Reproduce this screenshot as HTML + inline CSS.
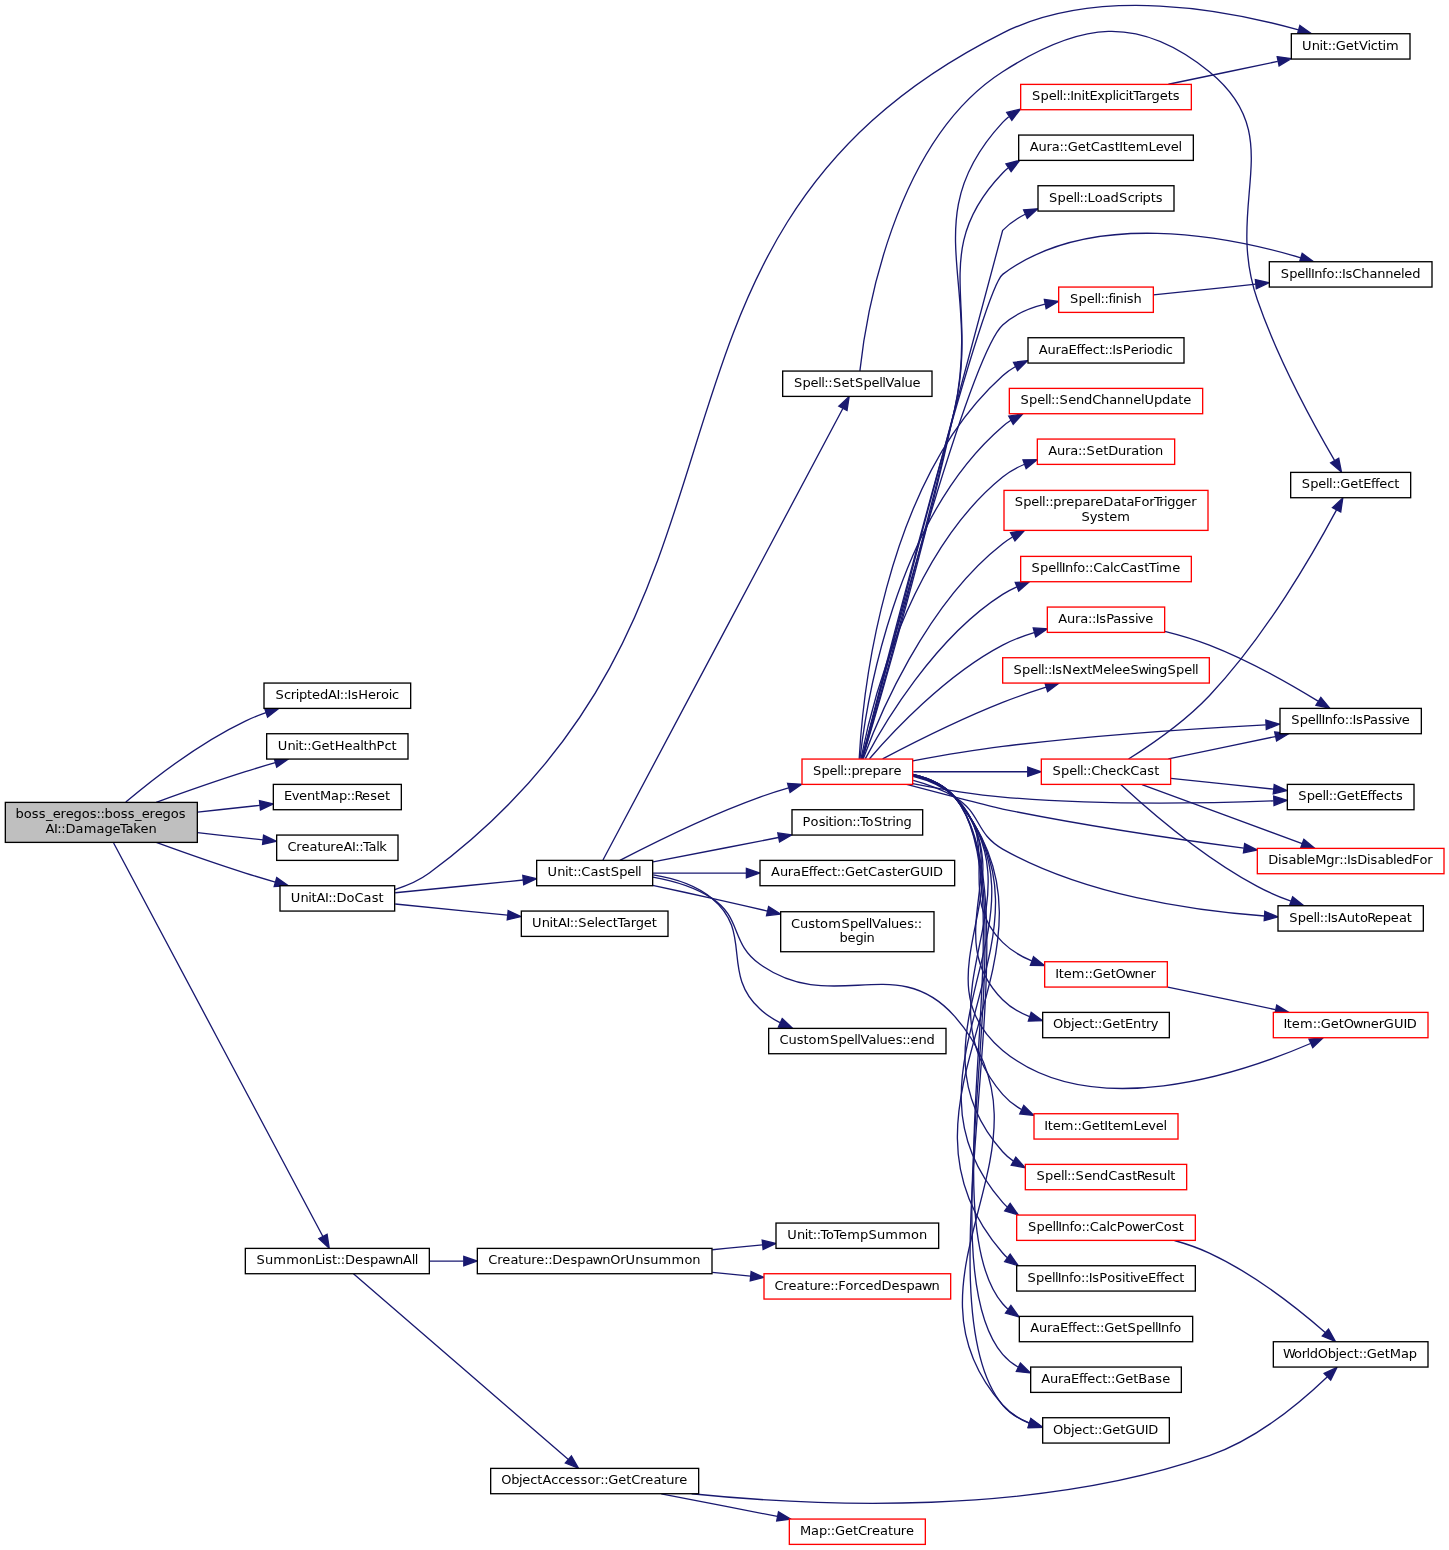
<!DOCTYPE html>
<html lang="en"><head><meta charset="utf-8"><title>boss_eregos::boss_eregosAI::DamageTaken call graph</title>
<style>html,body{margin:0;padding:0;background:#fff}svg{display:block;will-change:transform}</style></head>
<body>
<svg width="1449" height="1550" viewBox="0 0 1449 1550">
<rect width="1449" height="1550" fill="#fff"/>
<g font-family="'DejaVu Sans', 'Liberation Sans', sans-serif" font-size="13" fill="#000">
<g fill="none" stroke="#191970" stroke-width="1.33">
<path d="M125.8,802.09C152.79,779.37 199.53,742.9 245.33,721.06 251.88,717.94 258.88,715.14 265.99,712.63"/>
<path d="M156.23,802.39C182.87,792.69 215.64,781.14 245.33,771.73 254.97,768.67 265.25,765.61 275.29,762.73"/>
<path d="M197.57,812.09C218.28,809.85 239.93,807.49 259.8,805.33"/>
<path d="M197.57,832.7C219.41,835.07 242.31,837.55 263.04,839.81"/>
<path d="M156.23,842.39C182.87,852.1 215.64,863.65 245.33,873.06 254.97,876.11 265.25,879.18 275.29,882.06"/>
<path d="M113.61,842.97C152.11,915.34 281.23,1158.1 322.91,1236.45"/>
<path d="M394.81,889.53C406.97,885.81 419.21,880.54 429.33,873.06 792.93,604.54 598.65,235.74 1002.67,33.06 1098.25,-14.89 1228.01,10.09 1298.56,29.9"/>
<path d="M395.19,892.77C432.97,889.01 482.95,884.05 523.27,880.03"/>
<path d="M395.19,904.02C428.2,907.3 470.53,911.51 507.59,915.19"/>
<path d="M602.96,859.97C638.05,793.9 795.95,496.74 842.84,408.5"/>
<path d="M619.89,860.37C651.33,844.03 708.63,815.58 760,797.06 769.15,793.77 778.91,790.69 788.59,787.9"/>
<path d="M652.88,877.21C672.8,880.71 694.55,887.05 712,898.39 742.21,918.02 730.24,943.41 760,964.33 833.96,1016.22 895.87,950.18 954.67,1016.33 1069.13,1147.23 887.05,1274.57 1002.67,1405.06 1009.81,1413.13 1019.09,1418.82 1029.13,1422.81"/>
<path d="M653.05,861.94C689.85,854.77 738.19,845.35 778.45,837.5"/>
<path d="M653.05,873.06C680.4,873.06 714.09,873.06 746.12,873.06"/>
<path d="M652.67,885.29C671.56,889.41 692.69,894.05 712,898.39 729.93,902.42 749.09,906.81 767.41,911.03"/>
<path d="M653.2,874.94C673.63,878.17 695.6,884.9 712,898.39 753.41,932.45 720.47,972.85 760,1009.06 765.89,1014.46 772.72,1018.95 779.97,1022.69"/>
<path d="M859.89,370.81C865.35,321.22 892.36,142.3 1002.67,71.73 1080.04,22.22 1138.01,13.85 1209.33,71.73 1289.75,136.98 1223.37,201.9 1257.33,299.73 1278.23,359.91 1314.32,425.65 1334.53,460.37"/>
<path d="M862.6,758.66C876.61,711.74 924.88,547.22 954.67,409.06 981.89,282.78 914.93,217.21 1002.67,122.39 1004.57,120.34 1006.61,118.43 1008.77,116.67"/>
<path d="M862.43,758.62C875.88,711.58 922.48,546.69 954.67,409.06 979.04,304.83 928.61,250.35 1002.67,173.06 1004.36,171.3 1006.16,169.65 1008.04,168.1"/>
<path d="M862.05,758.91C883.67,677.14 1001.44,231.67 1002.67,230.39 1009.04,223.73 1016.8,218.45 1025.15,214.26"/>
<path d="M861.92,758.87C881.36,682.38 981.92,289.99 1002.67,274.39 1090.08,208.7 1228.04,236.26 1300.76,257.79"/>
<path d="M862,758.93C880.25,689.19 968.57,356.9 1002.67,325.06 1014.21,314.27 1029.63,307.89 1044.97,304.15"/>
<path d="M859.2,758.75C862.23,703.37 881.67,484.61 1002.67,375.73 1006.48,372.29 1010.69,369.3 1015.17,366.71"/>
<path d="M859.93,759.03C865.69,708.47 894.01,519.71 1002.67,426.39 1005.27,424.15 1008.04,422.11 1010.95,420.25"/>
<path d="M860.99,758.7C869.92,712.45 906.57,554.74 1002.67,477.06 1009.19,471.79 1016.65,467.59 1024.51,464.26"/>
<path d="M863.23,758.7C877.44,719.95 924.73,604.42 1002.67,543.73 1005.77,541.31 1009.05,539.07 1012.47,536.98"/>
<path d="M865.36,758.61C882.99,725.49 934.05,637.99 1002.67,594.39 1007.13,591.55 1011.89,589.03 1016.83,586.81"/>
<path d="M869.51,758.71C891.71,732.91 945.15,675.18 1002.67,645.06 1012.44,639.94 1023.28,635.83 1034.13,632.54"/>
<path d="M912.83,760.86C939.75,755.81 972.81,750.1 1002.67,746.39 1092.21,735.27 1195.43,728.5 1265.79,724.79"/>
<path d="M882.65,758.86C910.84,744.03 959.32,719.53 1002.67,702.39 1016.55,696.91 1031.76,691.71 1046.11,687.17"/>
<path d="M913.27,771.73C946.92,771.73 990.6,771.73 1027.73,771.73"/>
<path d="M912.73,783.54C939.63,788.82 972.71,794.45 1002.67,797.06 1095.69,805.18 1203.29,803.46 1273.64,800.85"/>
<path d="M906.65,784.43C944.73,794.47 993.12,807.11 1002.67,809.06 1083.03,825.46 1174.85,839.01 1243.8,848.15"/>
<path d="M913.15,780.42C927.31,784.18 942.11,789.5 954.67,797.06 981.61,813.27 975.24,833.67 1002.67,849.06 1084.04,894.73 1191.04,910.61 1264.52,915.97"/>
<path d="M913.16,776.46C928.15,780.14 943.37,786.43 954.67,797.06 1004.21,843.67 954.21,894.66 1002.67,942.39 1010.84,950.45 1021.01,956.47 1031.75,960.98"/>
<path d="M913.08,775.31C928.41,778.93 943.85,785.46 954.67,797.06 1032.79,880.91 914.41,977.29 1002.67,1050.39 1091.29,1123.81 1240.27,1073.78 1310.48,1043.49"/>
<path d="M912.76,775.62C928.08,779.23 943.6,785.7 954.67,797.06 1019.28,863.34 937.57,933.91 1002.67,999.73 1010.16,1007.3 1019.53,1012.73 1029.55,1016.61"/>
<path d="M912.77,775.02C928.28,778.59 943.89,785.18 954.67,797.06 1044.57,896.23 915.07,993.18 1002.67,1094.39 1007.96,1100.5 1014.4,1105.46 1021.45,1109.49"/>
<path d="M912.96,774.85C928.48,778.42 944.05,785.05 954.67,797.06 1059.99,916.26 896.48,1033.3 1002.67,1151.73 1005.87,1155.3 1009.49,1158.41 1013.41,1161.1"/>
<path d="M913.08,774.74C928.61,778.3 944.15,784.95 954.67,797.06 1073.64,933.99 882.69,1066.33 1002.67,1202.39 1004.07,1203.98 1005.53,1205.47 1007.09,1206.87"/>
<path d="M912.67,774.54C928.37,778.07 944.12,784.75 954.67,797.06 1087.32,951.75 868.89,1099.33 1002.67,1253.06 1004.05,1254.65 1005.52,1256.15 1007.07,1257.57"/>
<path d="M912.75,774.47C928.45,778.01 944.19,784.7 954.67,797.06 1027.84,883.3 928.87,1218.02 1002.67,1303.73 1004.27,1305.58 1005.97,1307.31 1007.77,1308.93"/>
<path d="M912.81,774.42C928.52,777.95 944.24,784.66 954.67,797.06 1034.69,892.19 921.96,1259.85 1002.67,1354.39 1007.03,1359.5 1012.24,1363.66 1017.97,1367.05"/>
<path d="M912.87,774.38C928.57,777.9 944.28,784.62 954.67,797.06 1041.55,901.09 915.04,1301.67 1002.67,1405.06 1009.8,1413.47 1019.24,1419.33 1029.52,1423.35"/>
<path d="M1168.4,84.27C1201.65,77.31 1242.99,68.66 1277.75,61.38"/>
<path d="M1153.43,294.9C1182.36,291.87 1220.73,287.86 1255.84,284.18"/>
<path d="M1164.77,631.29C1179.53,634.99 1195.21,639.58 1209.33,645.06 1248.45,660.25 1290.4,684.14 1318.05,701.07"/>
<path d="M1128.53,759.02C1150.41,745.23 1184.72,721.7 1209.33,695.73 1265.75,636.19 1314.37,551.38 1336.53,509.87"/>
<path d="M1168.4,758.94C1200.91,752.14 1241.15,743.71 1275.41,736.54"/>
<path d="M1170.92,778.38C1202.43,781.69 1240.69,785.69 1273.71,789.14"/>
<path d="M1142,784.53C1184.05,800.05 1255.13,826.29 1302.15,843.65"/>
<path d="M1120.77,784.41C1145.84,807.5 1202.2,856.73 1257.33,886.39 1267.83,892.05 1279.52,897.01 1290.95,901.23"/>
<path d="M1167.77,987.05C1200.4,993.87 1240.95,1002.37 1275.44,1009.59"/>
<path d="M1174.44,1240.49C1186.35,1243.85 1198.41,1247.98 1209.33,1253.06 1253.85,1273.75 1298.65,1309.39 1325.2,1332.42"/>
<path d="M429.53,1261.06C440.61,1261.06 452.11,1261.06 463.63,1261.06"/>
<path d="M353.45,1273.83C395.48,1310.14 515.91,1414.17 568.39,1459.51"/>
<path d="M712.31,1249.73C729.11,1248.09 746.21,1246.42 762.48,1244.83"/>
<path d="M712.31,1272.39C725.03,1273.63 737.91,1274.89 750.48,1276.11"/>
<path d="M691.61,1493.74C815.03,1506.42 1034.64,1516.33 1209.33,1455.73 1256.47,1439.38 1301.43,1401.53 1327.16,1376.99"/>
<path d="M661.28,1493.78C696.51,1500.65 740.25,1509.17 777.36,1516.41"/>
</g>
<g fill="#191970" stroke="#191970" stroke-width="1.33">
<polygon points="264.67,708.15 278.8,708.47 267.56,717.03"/>
<polygon points="274.19,758.19 288.29,759.06 276.73,767.18"/>
<polygon points="259.48,800.67 273.24,803.87 260.49,809.95"/>
<polygon points="263.57,835.17 276.33,841.25 262.57,844.45"/>
<polygon points="276.73,877.61 288.29,885.73 274.19,886.59"/>
<polygon points="327.09,1234.37 329.23,1248.34 318.85,1238.75"/>
<polygon points="1299.93,25.43 1311.44,33.65 1297.33,34.41"/>
<polygon points="522.8,875.38 536.53,878.71 523.73,884.67"/>
<polygon points="508.17,910.57 520.97,916.53 507.25,919.85"/>
<polygon points="838.77,406.21 849.15,396.63 847.01,410.59"/>
<polygon points="787.57,783.34 801.67,784.29 790.07,792.34"/>
<polygon points="1030.91,1418.47 1042.17,1426.99 1028.05,1427.35"/>
<polygon points="777.79,832.89 791.76,834.91 779.57,842.05"/>
<polygon points="746.39,868.39 759.72,873.06 746.39,877.73"/>
<polygon points="768.61,906.53 780.56,914.07 766.52,915.62"/>
<polygon points="782.2,1018.57 792.47,1028.27 778.39,1027.09"/>
<polygon points="1338.68,458.22 1341.44,472.07 1330.64,462.97"/>
<polygon points="1006.72,112.45 1020.43,109.03 1011.84,120.25"/>
<polygon points="1005.96,163.87 1019.65,160.39 1011.12,171.66"/>
<polygon points="1023.61,209.83 1037.71,208.87 1027.29,218.41"/>
<polygon points="1302.17,253.34 1313.55,261.71 1299.44,262.26"/>
<polygon points="1044.35,299.53 1058.33,301.51 1046.16,308.67"/>
<polygon points="1013.49,362.33 1027.53,360.71 1017.57,370.73"/>
<polygon points="1008.75,416.13 1022.69,413.87 1013.2,424.33"/>
<polygon points="1022.97,459.85 1037.11,459.7 1026.16,468.63"/>
<polygon points="1010.55,532.71 1024.49,530.5 1014.97,540.94"/>
<polygon points="1015.25,582.41 1029.37,581.81 1018.71,591.07"/>
<polygon points="1033.23,627.94 1047.32,628.9 1035.71,636.94"/>
<polygon points="1265.85,720.11 1279.41,724.09 1266.33,729.43"/>
<polygon points="1044.87,682.67 1058.99,683.18 1047.63,691.58"/>
<polygon points="1027.76,767.06 1041.09,771.73 1027.76,776.39"/>
<polygon points="1273.69,796.17 1287.2,800.31 1274.05,805.5"/>
<polygon points="1244.67,843.55 1257.27,849.93 1243.44,852.81"/>
<polygon points="1264.84,911.31 1277.83,916.86 1264.21,920.63"/>
<polygon points="1033.57,956.69 1044.51,965.62 1030.39,965.46"/>
<polygon points="1308.96,1039.06 1323.04,1037.91 1312.75,1047.59"/>
<polygon points="1031.19,1012.23 1042.47,1020.74 1028.35,1021.13"/>
<polygon points="1023.79,1105.43 1033.8,1115.41 1019.76,1113.85"/>
<polygon points="1015.79,1157.09 1025.15,1167.67 1011.24,1165.23"/>
<polygon points="1010.17,1203.35 1018.24,1214.94 1004.71,1210.91"/>
<polygon points="1010.16,1254.05 1018.17,1265.67 1004.65,1261.58"/>
<polygon points="1010.89,1305.41 1019.05,1316.94 1005.48,1313.02"/>
<polygon points="1020.35,1363.01 1030.37,1372.95 1016.33,1371.43"/>
<polygon points="1031.05,1418.95 1042.36,1427.42 1028.24,1427.85"/>
<polygon points="1277.2,56.73 1291.2,58.57 1279.11,65.86"/>
<polygon points="1255.36,279.54 1269.11,282.79 1256.33,288.82"/>
<polygon points="1320.84,697.31 1329.71,708.31 1315.92,705.23"/>
<polygon points="1332.44,507.63 1342.79,498.01 1340.71,511.98"/>
<polygon points="1274.69,731.91 1288.71,733.75 1276.61,741.06"/>
<polygon points="1274.24,784.5 1287.01,790.54 1273.27,793.79"/>
<polygon points="1303.83,839.29 1314.72,848.29 1300.6,848.05"/>
<polygon points="1292.63,896.87 1303.67,905.69 1289.53,905.69"/>
<polygon points="1276.73,1005.09 1288.83,1012.39 1274.81,1014.22"/>
<polygon points="1328.49,1329.1 1335.4,1341.43 1322.31,1336.1"/>
<polygon points="463.8,1256.39 477.13,1261.06 463.8,1265.73"/>
<polygon points="571.47,1455.99 578.49,1468.25 565.36,1463.06"/>
<polygon points="762.21,1240.18 775.93,1243.53 763.12,1249.46"/>
<polygon points="751.15,1271.49 763.97,1277.42 750.24,1280.78"/>
<polygon points="1324.16,1373.39 1336.96,1367.41 1330.69,1380.06"/>
<polygon points="778.51,1511.87 790.69,1519.01 776.72,1521.03"/>
</g>
<rect x="5.33" y="802.39" width="192" height="40" fill="#bfbfbf" stroke="#000" stroke-width="1.33"/>
<text x="15.57 23.72 31.82 38.82 45.95 52.7 60.53 65.7 73.57 81.72 89.82 96.51 100.51 104.57 112.72 120.82 127.82 134.95 141.7 149.53 154.7 162.57 170.72 178.82" y="818.49">boss_eregos::boss_eregos</text>
<text x="45.59 54.12 57.35 61.35 65.53 75.55 83.71 96.55 104.41 112.53 120.06 125.55 133.27 140.53 148.42" y="833.09">AI::DamageTaken</text>
<rect x="264" y="683.06" width="146.67" height="25.33" fill="#fff" stroke="#000" stroke-width="1.33"/>
<text x="275.41 283.96 290.86 295.73 298.91 306.99 312.03 319.91 328.09 336.62 339.85 343.85 347.62 351.15 358.14 368.03 375.86 381.06 388.73 391.96" y="699.13">ScriptedAI::IsHeroic</text>
<rect x="266.67" y="733.73" width="141.33" height="25.33" fill="#fff" stroke="#000" stroke-width="1.33"/>
<text x="277.78 287.42 295.23 298.49 303.35 307.35 311.49 321.53 329.49 334.64 344.53 352.55 360.23 363.49 368.42 376.61 384.46 391.49" y="749.79">Unit::GetHealthPct</text>
<rect x="273.33" y="784.39" width="128" height="25.33" fill="#fff" stroke="#000" stroke-width="1.33"/>
<text x="283.92 291.69 299.03 306.92 314.99 319.92 331.05 338.91 346.85 350.85 354.52 362.03 370.15 377.03 384.99" y="800.46">EventMap::Reset</text>
<rect x="276.67" y="835.06" width="121.33" height="25.33" fill="#fff" stroke="#000" stroke-width="1.33"/>
<text x="287.49 296.36 301.53 309.55 317.49 322.42 330.36 335.53 343.59 352.12 355.35 359.35 363.06 368.55 376.23 379.27" y="851.13">CreatureAI::Talk</text>
<rect x="280" y="885.73" width="114.67" height="25.33" fill="#fff" stroke="#000" stroke-width="1.33"/>
<text x="290.78 300.42 308.23 311.49 316.59 325.12 328.35 332.35 336.53 346.56 354.49 363.55 371.65 378.49" y="901.79">UnitAI::DoCast</text>
<rect x="245.33" y="1248.39" width="184" height="25.33" fill="#fff" stroke="#000" stroke-width="1.33"/>
<text x="256.41 264.92 273.21 286.21 299.06 306.92 314.91 321.73 325.15 331.99 336.85 340.85 345.03 355.03 363.15 369.91 378.05 385.22 394.92 403.09 411.73 414.73" y="1264.46">SummonList::DespawnAll</text>
<rect x="1291.33" y="33.73" width="118.67" height="25.33" fill="#fff" stroke="#000" stroke-width="1.33"/>
<text x="1302.11 1311.75 1319.56 1322.82 1327.68 1331.68 1335.83 1345.87 1353.82 1358.92 1367.56 1370.8 1377.82 1382.56 1386.04" y="49.79">Unit::GetVictim</text>
<rect x="536.67" y="860.39" width="116" height="25.33" fill="#fff" stroke="#000" stroke-width="1.33"/>
<text x="547.61 557.25 565.06 568.32 573.18 577.18 581.33 590.38 598.48 605.32 610.74 619.24 627.37 635.06 638.06" y="876.46">Unit::CastSpell</text>
<rect x="521.33" y="911.06" width="146.67" height="25.33" fill="#fff" stroke="#000" stroke-width="1.33"/>
<text x="532.11 541.75 549.56 552.82 557.92 566.45 569.68 573.68 578.24 586.87 594.56 597.87 605.8 612.82 617.4 622.88 630.69 635.74 643.87 651.82" y="927.13">UnitAI::SelectTarget</text>
<rect x="782.67" y="371.06" width="149.33" height="25.33" fill="#fff" stroke="#000" stroke-width="1.33"/>
<text x="793.91 802.41 810.53 818.23 821.23 824.35 828.35 832.91 841.53 849.49 854.91 863.41 871.53 879.23 882.23 885.59 893.55 901.23 904.42 912.53" y="387.13">Spell::SetSpellValue</text>
<rect x="802" y="759.06" width="110.67" height="25.33" fill="#fff" stroke="#f00" stroke-width="1.33"/>
<text x="812.91 821.41 829.53 837.23 840.23 843.35 847.35 851.41 859.36 864.53 872.41 880.55 888.36 893.53" y="775.13">Spell::prepare</text>
<rect x="1042.67" y="1417.73" width="126.67" height="25.33" fill="#fff" stroke="#000" stroke-width="1.33"/>
<text x="1053.08 1063.08 1070.9 1074.2 1082.13 1089.15 1094.01 1098.01 1102.16 1112.2 1120.15 1125.16 1135.44 1144.79 1148.19" y="1433.79">Object::GetGUID</text>
<rect x="792" y="809.73" width="130.67" height="25.33" fill="#fff" stroke="#000" stroke-width="1.33"/>
<text x="802.61 810.56 818.65 825.23 828.49 833.23 836.56 844.42 852.35 856.35 860.06 865.56 873.91 882.49 887.36 892.23 895.42 903.41" y="825.79">Position::ToString</text>
<rect x="760" y="860.39" width="194.67" height="25.33" fill="#fff" stroke="#000" stroke-width="1.33"/>
<text x="771.09 779.92 787.86 793.05 800.92 808.74 812.74 817.03 824.96 831.99 836.85 840.85 844.99 855.03 862.99 867.99 877.05 885.15 891.99 897.03 904.86 909.99 920.28 929.62 933.03" y="876.46">AuraEffect::GetCasterGUID</text>
<rect x="780.67" y="911.73" width="153.33" height="40" fill="#fff" stroke="#000" stroke-width="1.33"/>
<text x="790.99 799.92 808.15 814.99 820.06 828.21 841.41 849.91 858.03 865.73 868.73 872.09 880.05 887.73 890.92 899.03 907.15 913.85 917.85" y="927.83">CustomSpellValues::</text>
<text x="839.41 847.53 855.41 863.23 866.42" y="942.43">begin</text>
<rect x="768.67" y="1028.39" width="177.33" height="25.33" fill="#fff" stroke="#000" stroke-width="1.33"/>
<text x="779.49 788.42 796.65 803.49 808.56 816.71 829.91 838.41 846.53 854.23 857.23 860.59 868.55 876.23 879.42 887.53 895.65 902.35 906.35 910.53 918.42 926.41" y="1044.46">CustomSpellValues::end</text>
<rect x="1290.67" y="472.39" width="120" height="25.33" fill="#fff" stroke="#000" stroke-width="1.33"/>
<text x="1301.74 1310.24 1318.37 1326.06 1329.06 1332.18 1336.18 1340.33 1350.37 1358.32 1363.26 1371.08 1375.08 1379.37 1387.3 1394.32" y="488.46">Spell::GetEffect</text>
<rect x="1020.67" y="84.39" width="170.67" height="25.33" fill="#fff" stroke="#f00" stroke-width="1.33"/>
<text x="1032.08 1040.58 1048.7 1056.4 1059.4 1062.51 1066.51 1070.29 1073.58 1081.4 1084.65 1089.59 1097.36 1104.58 1112.4 1115.4 1118.63 1125.4 1128.65 1133.23 1138.72 1146.53 1151.58 1159.7 1167.65 1172.82" y="100.46">Spell::InitExplicitTargets</text>
<rect x="1018.67" y="135.06" width="174.67" height="25.33" fill="#fff" stroke="#000" stroke-width="1.33"/>
<text x="1029.75 1038.58 1046.53 1051.72 1059.51 1063.51 1067.66 1077.7 1085.65 1090.66 1099.72 1107.82 1114.65 1119.29 1122.65 1127.7 1135.87 1148.58 1155.7 1163.36 1170.7 1178.4" y="151.13">Aura::GetCastItemLevel</text>
<rect x="1038" y="185.73" width="136" height="25.33" fill="#fff" stroke="#000" stroke-width="1.33"/>
<text x="1049.08 1057.58 1065.7 1073.4 1076.4 1079.51 1083.51 1087.58 1094.72 1102.72 1110.58 1119.08 1127.63 1134.53 1139.4 1142.58 1150.65 1155.82" y="201.79">Spell::LoadScripts</text>
<rect x="1269.33" y="261.73" width="162.67" height="25.33" fill="#fff" stroke="#000" stroke-width="1.33"/>
<text x="1280.74 1289.24 1297.37 1305.06 1308.06 1310.95 1314.25 1322.08 1326.39 1334.18 1338.18 1341.95 1345.48 1352.33 1361.25 1369.38 1377.25 1385.25 1393.37 1401.06 1404.37 1412.24" y="277.79">SpellInfo::IsChanneled</text>
<rect x="1058.67" y="287.06" width="94.67" height="25.33" fill="#fff" stroke="#f00" stroke-width="1.33"/>
<text x="1070.08 1078.58 1086.7 1094.4 1097.4 1100.51 1104.51 1108.41 1112.4 1115.58 1123.4 1126.82 1133.58" y="303.13">Spell::finish</text>
<rect x="1028" y="337.73" width="156" height="25.33" fill="#fff" stroke="#000" stroke-width="1.33"/>
<text x="1038.75 1047.58 1055.53 1060.72 1068.59 1076.41 1080.41 1084.7 1092.63 1099.65 1104.51 1108.51 1112.29 1115.82 1122.78 1130.7 1138.53 1143.4 1146.72 1154.58 1162.4 1165.63" y="353.79">AuraEffect::IsPeriodic</text>
<rect x="1009.33" y="388.39" width="193.33" height="25.33" fill="#fff" stroke="#f00" stroke-width="1.33"/>
<text x="1020.58 1029.08 1037.2 1044.9 1047.9 1051.01 1055.01 1059.58 1068.2 1076.08 1084.08 1092.16 1101.08 1109.22 1117.08 1125.08 1133.2 1140.9 1144.44 1154.08 1162.08 1170.22 1178.15 1183.2" y="404.46">Spell::SendChannelUpdate</text>
<rect x="1037.33" y="439.06" width="137.33" height="25.33" fill="#fff" stroke="#f00" stroke-width="1.33"/>
<text x="1048.25 1057.08 1065.03 1070.22 1078.01 1082.01 1086.58 1095.2 1103.15 1108.19 1118.08 1126.03 1131.22 1139.15 1143.9 1147.22 1155.08" y="455.13">Aura::SetDuration</text>
<rect x="1004" y="490.39" width="204" height="40" fill="#fff" stroke="#f00" stroke-width="1.33"/>
<text x="1014.74 1023.24 1031.37 1039.06 1042.06 1045.18 1049.18 1053.24 1061.19 1066.37 1074.24 1082.38 1090.19 1095.37 1103.36 1113.38 1121.32 1126.38 1134.12 1141.39 1149.19 1153.9 1159.19 1164.06 1167.24 1175.24 1183.37 1191.19" y="506.49">Spell::prepareDataForTrigger</text>
<text x="1081.58 1089.86 1097.32 1104.15 1109.2 1117.37" y="521.09">System</text>
<rect x="1020.67" y="556.39" width="170.67" height="25.33" fill="#fff" stroke="#f00" stroke-width="1.33"/>
<text x="1031.58 1040.08 1048.2 1055.9 1058.9 1061.79 1065.08 1072.91 1077.22 1085.01 1089.01 1093.16 1102.22 1109.9 1113.13 1120.16 1129.22 1137.32 1144.15 1148.73 1155.9 1159.37 1172.2" y="572.46">SpellInfo::CalcCastTime</text>
<rect x="1047.33" y="607.06" width="117.33" height="25.33" fill="#fff" stroke="#f00" stroke-width="1.33"/>
<text x="1058.25 1067.08 1075.03 1080.22 1088.01 1092.01 1095.79 1099.32 1106.28 1113.22 1121.32 1128.32 1134.9 1137.86 1145.2" y="623.13">Aura::IsPassive</text>
<rect x="1280" y="708.39" width="141.33" height="25.33" fill="#fff" stroke="#000" stroke-width="1.33"/>
<text x="1291.24 1299.74 1307.87 1315.56 1318.56 1321.45 1324.75 1332.58 1336.89 1344.68 1348.68 1352.45 1355.98 1362.94 1369.88 1377.98 1384.98 1391.56 1394.52 1401.87" y="724.46">SpellInfo::IsPassive</text>
<rect x="1002.67" y="657.73" width="206.67" height="25.33" fill="#fff" stroke="#f00" stroke-width="1.33"/>
<text x="1013.58 1022.08 1030.2 1037.9 1040.9 1044.01 1048.01 1051.79 1055.32 1062.34 1072.2 1079.86 1087.15 1092.09 1103.2 1110.9 1114.2 1122.2 1130.58 1138.39 1147.9 1151.08 1159.08 1167.58 1176.08 1184.2 1191.9 1194.9" y="673.79">Spell::IsNextMeleeSwingSpell</text>
<rect x="1041.33" y="759.06" width="129.33" height="25.33" fill="#fff" stroke="#f00" stroke-width="1.33"/>
<text x="1052.58 1061.08 1069.2 1076.9 1079.9 1083.01 1087.01 1091.16 1100.08 1108.2 1116.13 1122.93 1130.16 1139.22 1147.32 1154.15" y="775.13">Spell::CheckCast</text>
<rect x="1287.33" y="784.39" width="126.67" height="25.33" fill="#fff" stroke="#000" stroke-width="1.33"/>
<text x="1298.24 1306.74 1314.87 1322.56 1325.56 1328.68 1332.68 1336.83 1346.87 1354.82 1359.76 1367.58 1371.58 1375.87 1383.8 1390.82 1395.98" y="800.46">Spell::GetEffects</text>
<rect x="1257.33" y="848.39" width="186.67" height="25.33" fill="#fff" stroke="#f00" stroke-width="1.33"/>
<text x="1268.36 1278.06 1281.48 1288.38 1296.24 1304.06 1307.37 1315.26 1326.24 1334.19 1339.18 1343.18 1346.95 1350.48 1357.36 1367.06 1370.48 1377.38 1385.24 1393.06 1396.37 1404.24 1412.12 1419.39 1427.19" y="864.46">DisableMgr::IsDisabledFor</text>
<rect x="1278" y="905.73" width="145.33" height="25.33" fill="#fff" stroke="#000" stroke-width="1.33"/>
<text x="1289.24 1297.74 1305.87 1313.56 1316.56 1319.68 1323.68 1327.45 1330.98 1337.92 1346.75 1354.82 1359.89 1367.35 1374.87 1382.74 1390.87 1398.88 1406.82" y="921.79">Spell::IsAutoRepeat</text>
<rect x="1044.67" y="961.73" width="122.67" height="25.33" fill="#fff" stroke="#f00" stroke-width="1.33"/>
<text x="1055.29 1058.65 1063.7 1071.87 1084.51 1088.51 1092.66 1102.7 1110.65 1115.58 1124.89 1134.58 1142.7 1150.53" y="977.79">Item::GetOwner</text>
<rect x="1273.33" y="1012.39" width="154.67" height="25.33" fill="#fff" stroke="#f00" stroke-width="1.33"/>
<text x="1283.45 1286.82 1291.87 1300.04 1312.68 1316.68 1320.83 1330.87 1338.82 1343.75 1353.05 1362.75 1370.87 1378.69 1383.83 1394.11 1403.45 1406.86" y="1028.46">Item::GetOwnerGUID</text>
<rect x="1042.67" y="1012.39" width="126.67" height="25.33" fill="#fff" stroke="#000" stroke-width="1.33"/>
<text x="1053.08 1063.08 1070.9 1074.2 1082.13 1089.15 1094.01 1098.01 1102.16 1112.2 1120.15 1125.09 1133.08 1141.15 1146.03 1150.86" y="1028.46">Object::GetEntry</text>
<rect x="1034" y="1113.73" width="144" height="25.33" fill="#fff" stroke="#f00" stroke-width="1.33"/>
<text x="1044.29 1047.65 1052.7 1060.87 1073.51 1077.51 1081.66 1091.7 1099.65 1104.29 1107.65 1112.7 1120.87 1133.58 1140.7 1148.36 1155.7 1163.4" y="1129.79">Item::GetItemLevel</text>
<rect x="1025.33" y="1164.39" width="161.33" height="25.33" fill="#fff" stroke="#f00" stroke-width="1.33"/>
<text x="1036.58 1045.08 1053.2 1060.9 1063.9 1067.01 1071.01 1075.58 1084.2 1092.08 1100.08 1108.16 1117.22 1125.32 1132.15 1136.68 1144.2 1152.32 1159.08 1166.9 1170.15" y="1180.46">Spell::SendCastResult</text>
<rect x="1016.67" y="1215.06" width="178.67" height="25.33" fill="#fff" stroke="#f00" stroke-width="1.33"/>
<text x="1028.08 1036.58 1044.7 1052.4 1055.4 1058.29 1061.58 1069.41 1073.72 1081.51 1085.51 1089.66 1098.72 1106.4 1109.63 1116.78 1124.72 1131.89 1141.7 1149.53 1154.66 1163.72 1171.82 1178.65" y="1231.13">SpellInfo::CalcPowerCost</text>
<rect x="1016.67" y="1265.73" width="178.67" height="25.33" fill="#fff" stroke="#000" stroke-width="1.33"/>
<text x="1027.58 1036.08 1044.2 1051.9 1054.9 1057.79 1061.08 1068.91 1073.22 1081.01 1085.01 1088.79 1092.32 1099.28 1107.22 1115.32 1121.9 1125.15 1129.9 1132.86 1140.2 1148.09 1155.91 1159.91 1164.2 1172.13 1179.15" y="1281.79">SpellInfo::IsPositiveEffect</text>
<rect x="1019.33" y="1316.39" width="173.33" height="25.33" fill="#fff" stroke="#000" stroke-width="1.33"/>
<text x="1030.25 1039.08 1047.03 1052.22 1060.09 1067.91 1071.91 1076.2 1084.13 1091.15 1096.01 1100.01 1104.16 1114.2 1122.15 1127.58 1136.08 1144.2 1151.9 1154.9 1157.79 1161.08 1168.91 1173.22" y="1332.46">AuraEffect::GetSpellInfo</text>
<rect x="1030.67" y="1367.06" width="150.67" height="25.33" fill="#fff" stroke="#000" stroke-width="1.33"/>
<text x="1041.25 1050.08 1058.03 1063.22 1071.09 1078.91 1082.91 1087.2 1095.13 1102.15 1107.01 1111.01 1115.16 1125.2 1133.15 1138.24 1147.22 1155.32 1162.2" y="1383.13">AuraEffect::GetBase</text>
<rect x="1273.33" y="1341.73" width="154.67" height="25.33" fill="#fff" stroke="#000" stroke-width="1.33"/>
<text x="1282.94 1293.89 1301.69 1306.56 1309.74 1317.75 1327.74 1335.56 1338.87 1346.8 1353.82 1358.68 1362.68 1366.83 1376.87 1384.82 1389.76 1400.88 1408.74" y="1357.79">WorldObject::GetMap</text>
<rect x="477.33" y="1248.39" width="234.67" height="25.33" fill="#fff" stroke="#000" stroke-width="1.33"/>
<text x="488.33 497.19 502.37 510.38 518.32 523.25 531.19 536.37 544.18 548.18 552.36 562.37 570.48 577.24 585.38 592.55 602.25 610.25 620.19 625.61 635.25 643.48 650.25 658.54 671.54 684.39 692.25" y="1264.46">Creature::DespawnOrUnsummon</text>
<rect x="490.67" y="1468.39" width="208" height="25.33" fill="#fff" stroke="#000" stroke-width="1.33"/>
<text x="501.25 511.24 519.06 522.37 530.3 537.32 542.42 551.3 558.3 565.37 573.48 580.48 587.39 595.19 600.18 604.18 608.33 618.37 626.32 631.33 640.19 645.37 653.38 661.32 666.25 674.19 679.37" y="1484.46">ObjectAccessor::GetCreature</text>
<rect x="776" y="1223.06" width="162.67" height="25.33" fill="#fff" stroke="#000" stroke-width="1.33"/>
<text x="787.28 796.92 804.73 807.99 812.85 816.85 820.56 826.06 833.56 839.03 847.21 859.91 868.41 876.92 885.21 898.21 911.06 918.92" y="1239.13">Unit::ToTempSummon</text>
<rect x="764" y="1273.73" width="186.67" height="25.33" fill="#fff" stroke="#f00" stroke-width="1.33"/>
<text x="774.49 783.36 788.53 796.55 804.49 809.42 817.36 822.53 830.35 834.35 838.29 845.56 853.36 858.46 865.53 873.41 881.53 891.53 899.65 906.41 914.55 921.72 931.42" y="1289.79">Creature::ForcedDespawn</text>
<rect x="789.33" y="1519.06" width="136" height="25.33" fill="#fff" stroke="#f00" stroke-width="1.33"/>
<text x="799.92 811.05 818.91 826.85 830.85 834.99 845.03 852.99 857.99 866.86 872.03 880.05 887.99 892.92 900.86 906.03" y="1535.13">Map::GetCreature</text>
</g></svg>
</body></html>
